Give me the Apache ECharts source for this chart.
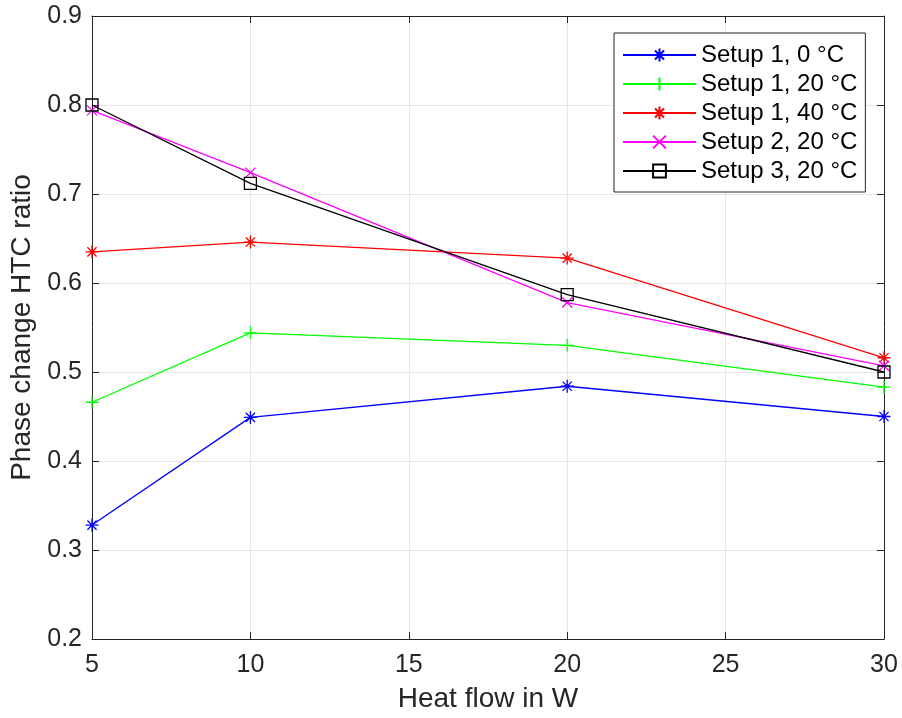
<!DOCTYPE html>
<html>
<head>
<meta charset="utf-8">
<script src="https://cdn.jsdelivr.net/npm/echarts@6/dist/echarts.min.js"></script>
<style>
  html, body { margin: 0; padding: 0; background: #fff; }
  #chart { width: 902px; height: 718px; }
</style>
</head>
<body>
<div id="chart"></div>
<script>
// Heat flow (W) at which each setup was measured
const heatFlow = [5, 10, 20, 30];

// Phase change HTC ratio per setup
const setup1_0C  = [0.328, 0.449, 0.484, 0.450];
const setup1_20C = [0.466, 0.544, 0.530, 0.483];
const setup1_40C = [0.635, 0.646, 0.628, 0.516];
const setup2_20C = [0.794, 0.724, 0.578, 0.507];
const setup3_20C = [0.800, 0.712, 0.587, 0.500];

const seriesNames = ['Setup 1, 0 °C', 'Setup 1, 20 °C', 'Setup 1, 40 °C', 'Setup 2, 20 °C', 'Setup 3, 20 °C'];
const seriesValues = [setup1_0C, setup1_20C, setup1_40C, setup2_20C, setup3_20C];

const xTicks = [5, 10, 15, 20, 25, 30];
const yTicks = [0.2, 0.3, 0.4, 0.5, 0.6, 0.7, 0.8, 0.9];

// stroke-only marker shapes
const ASTERISK = 'path://M0,-10L0,10M-10,0L10,0M-7.07,-7.07L7.07,7.07M-7.07,7.07L7.07,-7.07';
const PLUS = 'path://M0,-10L0,10M-10,0L10,0';
const CROSS = 'path://M-7,-7L7,7M-7,7L7,-7';

const styles = [
  { color: '#0000ff', symbol: ASTERISK, size: 13 },
  { color: '#00ff00', symbol: PLUS, size: 13 },
  { color: '#ff0000', symbol: ASTERISK, size: 13 },
  { color: '#ff00ff', symbol: CROSS, size: 10 },
  { color: '#000000', symbol: 'rect', size: 12 }
];

const FONT = '"Liberation Sans", Arial, Helvetica, sans-serif';
const AXIS_COLOR = '#262626';

const chart = echarts.init(document.getElementById('chart'), null, { renderer: 'canvas' });

const series = seriesNames.map((name, i) => ({
  name: name,
  type: 'line',
  data: heatFlow.map((x, j) => [x, seriesValues[i][j]]),
  symbol: styles[i].symbol,
  symbolSize: styles[i].size,
  showAllSymbol: true,
  lineStyle: { color: styles[i].color, width: 1.3 },
  itemStyle: { color: 'rgba(0,0,0,0)', borderColor: styles[i].color, borderWidth: 1.3 },
  emphasis: { disabled: true },
  animation: false,
  z: 3 + i
}));

const baseAxisLine = { show: true, lineStyle: { color: AXIS_COLOR, width: 1 } };

chart.setOption({
  backgroundColor: '#ffffff',
  animation: false,
  textStyle: { fontFamily: FONT },
  grid: { left: 91, top: 16, width: 793, height: 624, containLabel: false },
  legend: {
    data: seriesNames,
    orient: 'vertical',
    left: 614,
    top: 33,
    padding: [9, 8, 8, 8],
    itemGap: 3,
    itemWidth: 73,
    itemHeight: 16,
    backgroundColor: '#ffffff',
    borderColor: AXIS_COLOR,
    borderWidth: 1,
    textStyle: { fontFamily: FONT, fontSize: 24, color: '#000', lineHeight: 26 },
    selectedMode: false
  },
  xAxis: [
    {
      type: 'value',
      min: 5, max: 30, interval: 5,
      position: 'bottom',
      name: 'Heat flow in W',
      nameLocation: 'middle',
      nameGap: 46,
      nameTextStyle: { fontFamily: FONT, fontSize: 28, color: '#262626' },
      axisLine: baseAxisLine,
      axisTick: { show: true, inside: true, length: 7, lineStyle: { color: AXIS_COLOR } },
      axisLabel: {
        fontFamily: FONT, fontSize: 25, color: '#262626', margin: 14,
        customValues: xTicks
      },
      splitLine: { show: true, lineStyle: { color: '#e6e6e6', width: 1 } }
    },
    {
      type: 'value',
      min: 5, max: 30, interval: 5,
      position: 'top',
      axisLine: baseAxisLine,
      axisTick: { show: true, inside: true, length: 7, lineStyle: { color: AXIS_COLOR } },
      axisLabel: { show: false },
      splitLine: { show: false }
    }
  ],
  yAxis: [
    {
      type: 'value',
      min: 0.2, max: 0.9, interval: 0.1,
      position: 'left',
      name: 'Phase change HTC ratio',
      nameLocation: 'middle',
      nameGap: 56,
      nameTextStyle: { fontFamily: FONT, fontSize: 28, color: '#262626' },
      axisLine: baseAxisLine,
      axisTick: { show: true, inside: true, length: 7, lineStyle: { color: AXIS_COLOR } },
      axisLabel: {
        fontFamily: FONT, fontSize: 25, color: '#262626', margin: 10,
        customValues: yTicks,
        formatter: v => v.toFixed(1)
      },
      splitLine: { show: true, lineStyle: { color: '#e6e6e6', width: 1 } }
    },
    {
      type: 'value',
      min: 0.2, max: 0.9, interval: 0.1,
      position: 'right',
      axisLine: baseAxisLine,
      axisTick: { show: true, inside: true, length: 7, lineStyle: { color: AXIS_COLOR } },
      axisLabel: { show: false },
      splitLine: { show: false }
    }
  ],
  series: series
});
</script>
</body>
</html>
